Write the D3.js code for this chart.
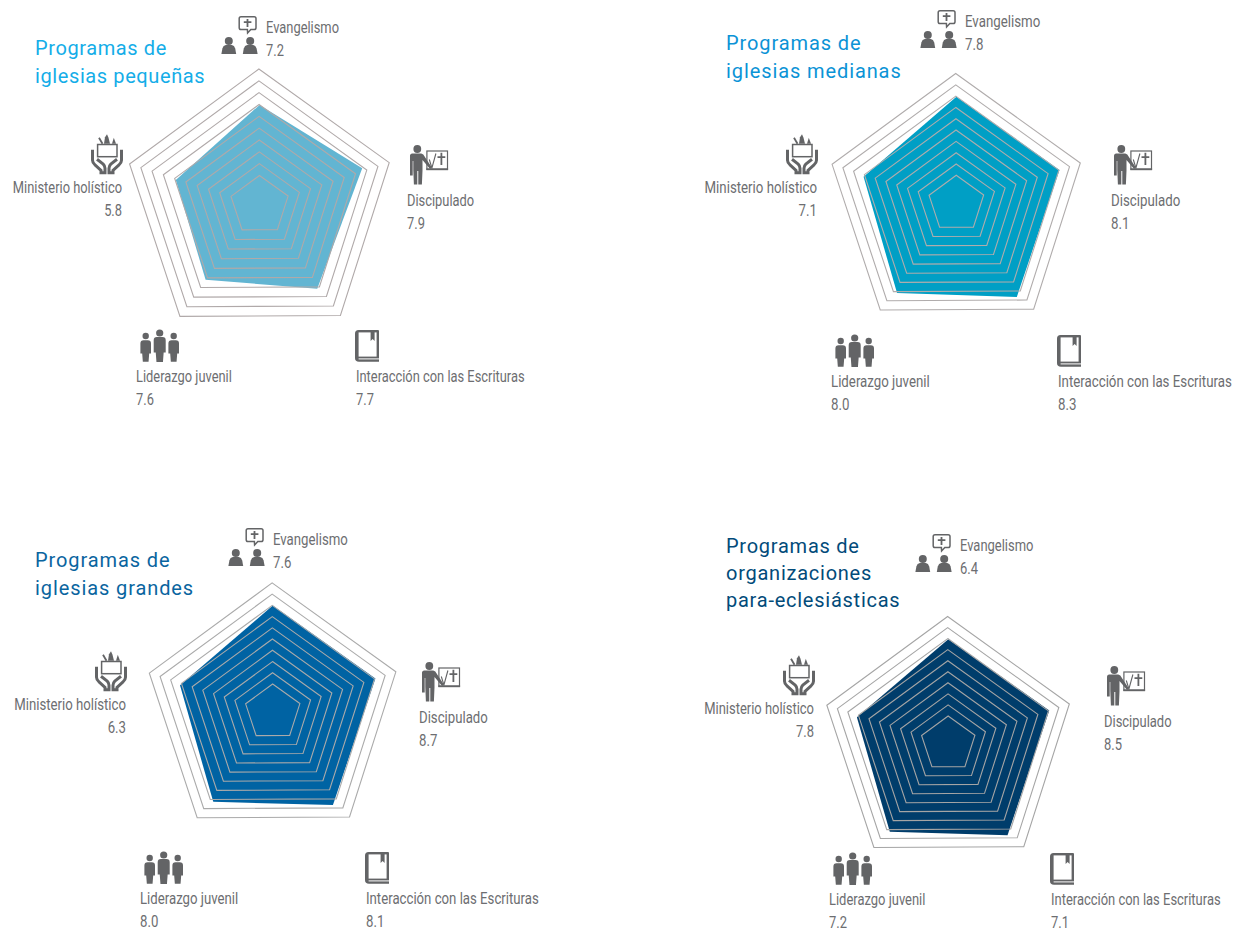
<!DOCTYPE html>
<html><head><meta charset="utf-8">
<script src="https://cdnjs.cloudflare.com/ajax/libs/d3/7.8.5/d3.min.js"></script>
<style>
html,body{margin:0;padding:0;background:#fff}
svg{display:block}
.lab{font-family:"Roboto",sans-serif;font-size:16px;fill:#6d6e71}
.ttl{font-family:"Roboto",sans-serif;font-size:20px}
</style></head><body>
<svg id="c" width="1236" height="928"></svg>
<script>
// ---- data ----
const categories = ["Evangelismo","Discipulado","Interacción con las Escrituras","Liderazgo juvenil","Ministerio holístico"];
const titleSmall  = ["Programas de","iglesias pequeñas"];
const titleMedium = ["Programas de","iglesias medianas"];
const titleLarge  = ["Programas de","iglesias grandes"];
const titleOrgs   = ["Programas de","organizaciones","para-eclesiásticas"];
// values printed beside each axis
const scoresSmall  = [7.2,7.9,7.7,7.6,5.8];
const scoresMedium = [7.8,8.1,8.3,8.0,7.1];
const scoresLarge  = [7.6,8.7,8.1,8.0,6.3];
const scoresOrgs   = [6.4,8.5,7.1,7.2,7.8];
// extent of the filled shape as drawn, read against the outer ring = 10
const shapeSmall  = [7.37,8.0,7.42,6.73,6.42];
const shapeMedium = [8.22,8.32,8.5,8.2,7.41];
const shapeLarge  = [8.25,8.34,8.52,8.28,7.46];
const shapeOrgs   = [8.22,8.34,8.53,8.27,7.47];
// concentric guide rings
const ringLevels = [2.2,3.07,3.93,4.8,5.67,6.53,7.4,8.27,9.13,10];

// ---- layout ----
const tiltA=[.3,-1.7,1.6,.3,-.7], tiltB=[.3,0,3.3,-2,-1.4];
const panels = [
 {title:titleSmall, scores:scoresSmall, shape:shapeSmall, tilt:tiltA,cx:259.6,cy:205.5,R:136.5, fill:"#62b5d2", ring:"#b0a9a9", tc:"#14ade8", ls:.6, sq:.805, tx:35,ty:[55,83],
  lab:[[266,33],[407,206],[356,382],[136,382],[122,193]]},
 {title:titleMedium,scores:scoresMedium,shape:shapeMedium,tilt:tiltB,cx:956.4,cy:204,R:130.5, fill:"#009fc5", ring:"#b0acac", tc:"#0b93d6", ls:.9, sq:.83, tx:726,ty:[49.5,77.5],
  lab:[[965,27],[1111,206],[1058,387],[831,387],[817,193]]},
 {title:titleLarge, scores:scoresLarge, shape:shapeLarge, tilt:tiltB,cx:272.8,cy:712.5,R:129.6, fill:"#0063a3", ring:"#aaaaaa", tc:"#0a659f", ls:.9, sq:.825, tx:35,ty:[567,595],
  lab:[[273,545],[419,723],[366,904],[140,904],[126,710]]},
 {title:titleOrgs,  scores:scoresOrgs,  shape:shapeOrgs,  tilt:tiltB,cx:948.3,cy:744,R:127.5, fill:"#003d6b", ring:"#a5a5a5", tc:"#024b7a", ls:.75, sq:.81, tx:726,ty:[553,580,607],
  lab:[[960,551],[1104,727],[1051,905],[829,905],[814,714]]}
];
const ink="#636466";
const svg=d3.select("#c");
const angle=d3.scalePoint().domain(d3.range(5)).range([0,Math.PI*2*4/5]);

// ---- icon helpers ----
function personPath(cx,top,w,h){
  const l=cx-w/2,r=cx+w/2,m=top+h*.62;
  return `M${l},${top+3.2}Q${l},${top} ${l+3.2},${top}L${r-3.2},${top}Q${r},${top} ${r},${top+3.2}L${r},${m}L${cx+w*.33},${m}L${cx+w*.27},${top+h}L${cx-w*.27},${top+h}L${cx-w*.33},${m}L${l},${m}Z`;
}
const icons=[
 function(g){ // evangelism: speech bubble and two people
  g.append("path").attr("d","M2.6,.8H15.8Q17.6,.8 17.6,2.6V11.8Q17.6,13.6 15.8,13.6H12.4L9.2,17L9,13.6H2.6Q.8,13.6 .8,11.8V2.6Q.8,.8 2.6,.8Z").attr("fill","#fff").attr("stroke",ink).attr("stroke-width",1.5);
  g.append("path").attr("d","M8.2,3H10V5.2H13V6.9H10V11H8.2V6.9H5.4V5.2H8.2Z").attr("fill",ink);
  [-9.6,11.8].forEach(x=>{
   g.append("circle").attr("cx",x).attr("cy",25).attr("r",4).attr("fill",ink);
   g.append("path").attr("d",`M${x-7.4},38L${x-6.4},32.5Q${x-5.6},29.4 ${x-3},29H${x+3}Q${x+5.6},29.4 ${x+6.4},32.5L${x+7.4},38Z`).attr("fill",ink);
  });
 },
 function(g){ // discipleship: teacher at a board
  g.append("circle").attr("r",3.9).attr("fill",ink);
  g.append("path").attr("d","M-5,4.4H4L6,5.4L14.5,18.5L12.8,20L5.2,11V21.5L4.6,35.5H1V22H0V35.5H-3.4L-4,21V12L-4.6,12V26.5H-7.3V7Q-7.3,4.4 -5,4.4Z").attr("fill",ink);
  g.append("rect").attr("x",9.6).attr("y",2).attr("width",20.6).attr("height",18.2).attr("fill","none").attr("stroke",ink).attr("stroke-width",1.2);
  g.append("rect").attr("x",9).attr("y",19.4).attr("width",21.8).attr("height",1.8).attr("fill",ink);
  g.append("path").attr("d","M12,10.5L14.6,19L18.6,4.5").attr("fill","none").attr("stroke",ink).attr("stroke-width",1.1);
  g.append("path").attr("d","M23.2,3.8H25V7.2H28V8.9H25V16H23.2V8.9H20.2V7.2H23.2Z").attr("fill",ink);
 },
 function(g){ // scriptures: book with a ribbon
  g.append("path").attr("d","M2.5,-52H22Q23,-52 23,-51V-20.2H3Q-1,-20.2 -1,-24V-48.5Q-1,-52 2.5,-52Z").attr("fill",ink);
  g.append("path").attr("d","M2.6,-49.6H20.6V-25.4H2.6Z").attr("fill","#fff");
  g.append("path").attr("d","M2.6,-23.6H23V-22.6H2.6Z").attr("fill","#fff");
  g.append("path").attr("d","M14.6,-51H18.6V-41L16.6,-43L14.6,-41Z").attr("fill",ink);
 },
 function(g){ // youth leadership: three people
  [[9.7,-46,3.2,-41.8,10.6,21.6],[23.7,-49,3.6,-45,12,25],[37.7,-46,3.2,-41.8,10.6,21.6]].forEach(d=>{
   g.append("circle").attr("cx",d[0]).attr("cy",d[1]).attr("r",d[2]).attr("fill",ink);
   g.append("path").attr("d",personPath(d[0],d[3],d[4],d[5])).attr("fill",ink);
  });
 },
 function(g){ // holistic ministry: hands holding a box with plants
  g.attr("transform",g.attr("transform")+" translate(-31,-58.7)");
  g.append("path").attr("d","M13,9.5L14,3L16,0L17.5,3.5L19,9.5Z").attr("fill",ink);
  g.append("path").attr("d","M21,9.5L22.8,3.5L25,9.5Z").attr("fill",ink);
  g.append("path").attr("d","M8,3.5L11.5,9.5").attr("stroke",ink).attr("stroke-width",1.8);
  g.append("rect").attr("x",6.6).attr("y",10.2).attr("width",19.4).attr("height",12.2).attr("fill","#fff").attr("stroke",ink).attr("stroke-width",1.5);
  [0,1].forEach(m=>{
   const h=g.append("g").attr("transform",m?"translate(32,0) scale(-1,1)":null);
   h.append("path").attr("d","M1.5,15.5V26Q1.5,28.5 4,30.5L10,36V38.4H14V34Q14,31.5 12.2,29.8L6,25").attr("fill","none").attr("stroke",ink).attr("stroke-width",3);
  });
 }
];

// ---- charts ----
panels.forEach(p=>{
  const r=d3.scaleLinear().domain([0,10]).range([0,p.R]);
  const g=svg.append("g").attr("transform",`translate(${p.cx},${p.cy}) rotate(-0.3)`);
  const radial=d3.lineRadial().curve(d3.curveLinearClosed).angle((d,i)=>angle(i)).radius(d=>r(d));
  const shapeLine=d3.lineRadial().curve(d3.curveLinearClosed).angle((d,i)=>angle(i)+p.tilt[i]*Math.PI/180).radius(d=>r(d));
  g.append("path").attr("d",shapeLine(p.shape)).attr("fill",p.fill);
  g.selectAll("path.ring").data(ringLevels).join("path").attr("class","ring")
    .attr("d",v=>radial(categories.map(()=>v))).attr("fill","none").attr("stroke",p.ring).attr("stroke-width",1.1);

  categories.forEach((c,i)=>{
    const [x,y]=p.lab[i], end=i===4;
    const t=svg.append("g").attr("text-anchor",end?"end":"start");
    t.append("text").attr("class","lab").attr("transform",`translate(${x},${y}) scale(${p.sq},1)`).text(c);
    t.append("text").attr("class","lab").attr("transform",`translate(${x},${y+22.5}) scale(${p.sq},1)`).text(d3.format(".1f")(p.scores[i]));
    const off=[[-27.6,-17],[10.3,-57],[0,0],[0,0],[0,0]][i];
    const ig=svg.append("g").attr("transform",`translate(${x+off[0]},${y+off[1]})`);
    icons[i](ig);
  });
  const tt=svg.append("text").attr("class","ttl").attr("fill",p.tc).attr("letter-spacing",p.ls);
  p.title.forEach((s,i)=>tt.append("tspan").attr("x",p.tx).attr("y",p.ty[i]).text(s));
});
</script></body></html>
